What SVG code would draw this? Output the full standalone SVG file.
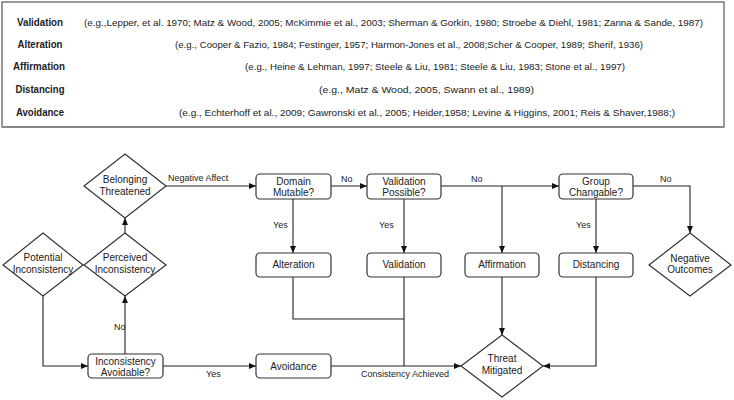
<svg xmlns="http://www.w3.org/2000/svg" width="734" height="400" viewBox="0 0 734 400">
<style>
.lbl{font-family:"Liberation Sans",Arial,sans-serif;font-size:10.5px;font-weight:bold;fill:#222;text-anchor:middle}
.cit{font-family:"Liberation Sans",Arial,sans-serif;font-size:9.8px;fill:#222}
.nt{font-family:"Liberation Sans",Arial,sans-serif;font-size:10px;fill:#222;text-anchor:middle}
.el{font-family:"Liberation Sans",Arial,sans-serif;font-size:9px;fill:#222}
.shape{fill:#fff;stroke:#333;stroke-width:1.2}
.conn{fill:none;stroke:#222;stroke-width:1.1}
</style>
<defs>
<marker id="ah" markerWidth="8" markerHeight="8" refX="7" refY="4" orient="auto" markerUnits="userSpaceOnUse">
<path d="M0,1 L7,4 L0,7 Z" fill="#111"/>
</marker>
</defs>
<rect width="734" height="400" fill="#fff"/>
<g id="reference-table">
<rect x="2" y="2" width="722" height="125" fill="#fff" stroke="#555" stroke-width="1.2"/>
<line x1="2" y1="127" x2="724" y2="127" stroke="#888" stroke-width="2"/>
<text class="lbl" x="40" y="26" textLength="46" lengthAdjust="spacingAndGlyphs">Validation</text>
<text class="lbl" x="40" y="48" textLength="45" lengthAdjust="spacingAndGlyphs">Alteration</text>
<text class="lbl" x="39" y="70" textLength="52" lengthAdjust="spacingAndGlyphs">Affirmation</text>
<text class="lbl" x="40" y="93" textLength="49" lengthAdjust="spacingAndGlyphs">Distancing</text>
<text class="lbl" x="40" y="116" textLength="48" lengthAdjust="spacingAndGlyphs">Avoidance</text>
<text class="cit" x="84" y="26" textLength="619" lengthAdjust="spacingAndGlyphs">(e.g.,Lepper, et al. 1970; Matz &amp; Wood, 2005; McKimmie et al., 2003; Sherman &amp; Gorkin, 1980; Stroebe &amp; Diehl, 1981; Zanna &amp; Sande, 1987)</text>
<text class="cit" x="175" y="48" textLength="468" lengthAdjust="spacingAndGlyphs">(e.g., Cooper &amp; Fazio, 1984; Festinger, 1957; Harmon-Jones et al., 2008;Scher &amp; Cooper, 1989; Sherif, 1936)</text>
<text class="cit" x="245" y="70" textLength="380" lengthAdjust="spacingAndGlyphs">(e.g., Heine &amp; Lehman, 1997; Steele &amp; Liu, 1981; Steele &amp; Liu, 1983; Stone et al., 1997)</text>
<text class="cit" x="319" y="93" textLength="215" lengthAdjust="spacingAndGlyphs">(e.g., Matz &amp; Wood, 2005, Swann et al., 1989)</text>
<text class="cit" x="179" y="116" textLength="496" lengthAdjust="spacingAndGlyphs">(e.g., Echterhoff et al., 2009; Gawronski et al., 2005; Heider,1958; Levine &amp; Higgins, 2001; Reis &amp; Shaver,1988;)</text>
</g>
<g id="connectors">
<path class="conn" d="M43,296 V366 H88" marker-end="url(#ah)"/>
<path class="conn" d="M125,354 V296" marker-end="url(#ah)"/>
<path class="conn" d="M125,233 V218" marker-end="url(#ah)"/>
<path class="conn" d="M166,186 H256" marker-end="url(#ah)"/>
<path class="conn" d="M331,186 H367" marker-end="url(#ah)"/>
<path class="conn" d="M293,199 V253" marker-end="url(#ah)"/>
<path class="conn" d="M404,199 V253" marker-end="url(#ah)"/>
<path class="conn" d="M441,186 H559" marker-end="url(#ah)"/>
<path class="conn" d="M502,186 V253" marker-end="url(#ah)"/>
<path class="conn" d="M596,199 V253" marker-end="url(#ah)"/>
<path class="conn" d="M633,186 H690 V233" marker-end="url(#ah)"/>
<path class="conn" d="M293,277 V319 H404"/>
<path class="conn" d="M404,277 V366"/>
<path class="conn" d="M331,366 H461" marker-end="url(#ah)"/>
<path class="conn" d="M502,277 V335" marker-end="url(#ah)"/>
<path class="conn" d="M596,277 V366 H543" marker-end="url(#ah)"/>
<path class="conn" d="M163,366 H256" marker-end="url(#ah)"/>
<text class="el" x="114" y="330">No</text>
<text class="el" x="168" y="181">Negative Affect</text>
<text class="el" x="341" y="182">No</text>
<text class="el" x="273" y="228">Yes</text>
<text class="el" x="379" y="228">Yes</text>
<text class="el" x="471" y="182">No</text>
<text class="el" x="576" y="228">Yes</text>
<text class="el" x="660" y="182">No</text>
<text class="el" x="206" y="377">Yes</text>
<text class="el" x="361" y="377">Consistency Achieved</text>
</g>
<g id="belonging-threatened">
<polygon class="shape" points="125,154 166,186 125,218 84,186"/>
<text class="nt" x="125" y="182.5">Belonging</text>
<text class="nt" x="125" y="194.5">Threatened</text>
</g>
<g id="potential-inconsistency">
<polygon class="shape" points="43,233 83,265 43,296 3,265"/>
<text class="nt" x="43" y="260.5">Potential</text>
<text class="nt" x="43" y="272.5">Inconsistency</text>
</g>
<g id="perceived-inconsistency">
<polygon class="shape" points="125,233 166,265 125,296 84,265"/>
<text class="nt" x="125" y="260.5">Perceived</text>
<text class="nt" x="125" y="272.5">Inconsistency</text>
</g>
<g id="inconsistency-avoidable">
<rect class="shape" x="88" y="354" width="75" height="24" rx="4"/>
<text class="nt" x="125.5" y="364.5">Inconsistency</text>
<text class="nt" x="125.5" y="375.5">Avoidable?</text>
</g>
<g id="domain-mutable">
<rect class="shape" x="256" y="174" width="75" height="25" rx="4"/>
<text class="nt" x="293.5" y="184.5">Domain</text>
<text class="nt" x="293.5" y="195.5">Mutable?</text>
</g>
<g id="validation-possible">
<rect class="shape" x="367" y="174" width="74" height="25" rx="4"/>
<text class="nt" x="404" y="184.5">Validation</text>
<text class="nt" x="404" y="195.5">Possible?</text>
</g>
<g id="group-changable">
<rect class="shape" x="559" y="174" width="74" height="25" rx="4"/>
<text class="nt" x="596" y="184.5">Group</text>
<text class="nt" x="596" y="195.5">Changable?</text>
</g>
<g id="alteration">
<rect class="shape" x="256" y="253" width="75" height="24" rx="4"/>
<text class="nt" x="293.5" y="268">Alteration</text>
</g>
<g id="validation">
<rect class="shape" x="367" y="253" width="74" height="24" rx="4"/>
<text class="nt" x="404" y="268">Validation</text>
</g>
<g id="affirmation">
<rect class="shape" x="465" y="253" width="74" height="24" rx="4"/>
<text class="nt" x="502" y="268">Affirmation</text>
</g>
<g id="distancing">
<rect class="shape" x="559" y="253" width="74" height="24" rx="4"/>
<text class="nt" x="596" y="268">Distancing</text>
</g>
<g id="negative-outcomes">
<polygon class="shape" points="690,233 731,265 690,296 649,265"/>
<text class="nt" x="690" y="261.5">Negative</text>
<text class="nt" x="690" y="273">Outcomes</text>
</g>
<g id="avoidance">
<rect class="shape" x="256" y="354" width="75" height="24" rx="4"/>
<text class="nt" x="293.5" y="369.5">Avoidance</text>
</g>
<g id="threat-mitigated">
<polygon class="shape" points="502,335 543,366 502,397 461,366"/>
<text class="nt" x="502" y="361.5">Threat</text>
<text class="nt" x="502" y="373.5">Mitigated</text>
</g>
</svg>
